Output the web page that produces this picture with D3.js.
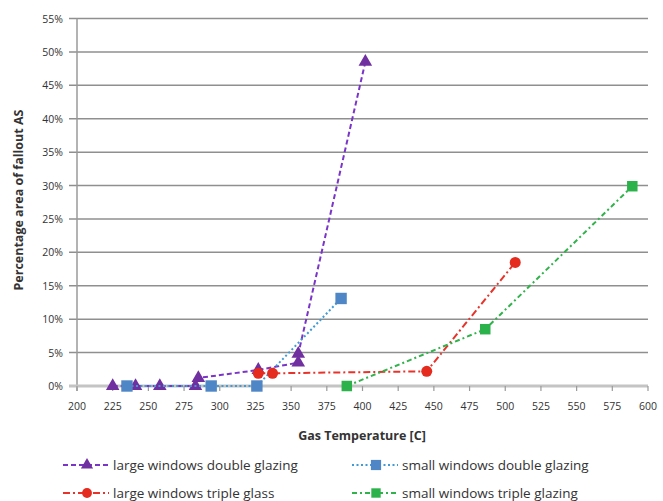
<!DOCTYPE html>
<html><head><meta charset="utf-8">
<script src="https://cdn.jsdelivr.net/npm/d3@7/dist/d3.min.js"></script>
<style>
html,body{margin:0;padding:0;background:#fff;}
svg text{font-family:"Open Sans",Lato,sans-serif;fill:#333;}
</style></head>
<body><svg id="c" width="663" height="501"></svg>
<script>
// Data
const xTicks = [200,225,250,275,300,325,350,375,400,425,450,475,500,525,550,575,600];
const yTicks = [0,5,10,15,20,25,30,35,40,45,50,55];
const seriesNames = ["large windows double glazing","small windows double glazing","large windows triple glass","small windows triple glazing"];
const largeDoubleX = [225, 241, 258, 283, 285, 327, 355, 355, 402];
const largeDoubleY = [0, 0, 0, 0, 1.2, 2.4, 3.5, 4.8, 48.5];
const smallDoubleX = [235, 294, 326, 385];
const smallDoubleY = [0, 0, 0, 13.1];
const largeTripleX = [327, 337, 445, 507];
const largeTripleY = [1.9, 1.9, 2.2, 18.5];
const smallTripleX = [389, 486, 589];
const smallTripleY = [0, 8.5, 29.9];

const svg = d3.select("#c");
const x = d3.scaleLinear().domain([200,600]).range([77,648]);
const y = d3.scaleLinear().domain([0,55]).range([386,18.5]);

// gridlines
svg.append("g").selectAll("line").data(yTicks.filter(d=>d>0)).join("line")
  .attr("x1",69).attr("x2",648).attr("y1",d=>y(d)).attr("y2",d=>y(d))
  .attr("stroke","#8f8f8f").attr("stroke-width",1.5);
// y axis line
svg.append("line").attr("x1",x(200)).attr("x2",x(200)).attr("y1",y(55)).attr("y2",y(0)+5)
  .attr("stroke","#9a9a9a").attr("stroke-width",1.5);
// x axis line
svg.append("line").attr("x1",69).attr("x2",648).attr("y1",y(0)).attr("y2",y(0))
  .attr("stroke","#c4c4c4").attr("stroke-width",3);
// x ticks
svg.append("g").selectAll("line").data(xTicks).join("line")
  .attr("x1",d=>x(d)).attr("x2",d=>x(d)).attr("y1",y(0)).attr("y2",y(0)+5)
  .attr("stroke","#9a9a9a").attr("stroke-width",1.2);

// tick labels
svg.append("g").selectAll("text").data(yTicks).join("text")
  .attr("x",63).attr("y",d=>y(d)+4).attr("text-anchor","end")
  .attr("font-size",10.5).text(d=>d+"%");
svg.append("g").selectAll("text").data(xTicks).join("text")
  .attr("x",d=>x(d)).attr("y",410).attr("text-anchor","middle")
  .attr("font-size",10.5).text(d=>d);

// axis titles
svg.append("text").attr("x",362).attr("y",440).attr("text-anchor","middle")
  .attr("font-size",12.5).attr("font-weight","bold").text("Gas Temperature [C]");
svg.append("text").attr("transform","translate(23,200) rotate(-90)").attr("text-anchor","middle")
  .attr("font-size",12.5).attr("font-weight","bold").text("Percentage area of fallout AS");

const series = [
  {name:seriesNames[0], xs:largeDoubleX, ys:largeDoubleY, line:"#7a35c8", mark:"#7030a0", dash:"5,3", sym:d3.symbolTriangle, size:80},
  {name:seriesNames[1], xs:smallDoubleX, ys:smallDoubleY, line:"#3f9ad6", mark:"#4f86c6", dash:"2,2.5", sym:d3.symbolSquare, size:130},
  {name:seriesNames[2], xs:largeTripleX, ys:largeTripleY, line:"#e8332a", mark:"#e52a1e", dash:"7,3,2,3", sym:d3.symbolCircle, size:95},
  {name:seriesNames[3], xs:smallTripleX, ys:smallTripleY, line:"#2fb34a", mark:"#2bb24a", dash:"5,3,2,3", sym:d3.symbolSquare, size:110}
];
const line = d3.line().x(d=>x(d[0])).y(d=>y(d[1]));
series.forEach(s=>{
  const pts = s.xs.map((v,i)=>[v,s.ys[i]]);
  svg.append("path").datum(pts).attr("d",line).attr("fill","none")
    .attr("stroke",s.line).attr("stroke-width",2).attr("stroke-dasharray",s.dash);
  svg.append("g").selectAll("path").data(pts).join("path")
    .attr("transform",d=>`translate(${x(d[0])},${y(d[1])})`)
    .attr("d",d3.symbol().type(s.sym).size(s.size)).attr("fill",s.mark);
});

// legend
const legPos = [[63,465],[352,465],[63,493],[352,493]];
series.forEach((s,i)=>{
  const [lx,ly] = legPos[i];
  const g = svg.append("g").attr("transform",`translate(${lx},${ly})`);
  g.append("line").attr("x1",0).attr("x2",46).attr("y1",0).attr("y2",0)
    .attr("stroke",s.line).attr("stroke-width",2).attr("stroke-dasharray",s.dash);
  g.append("path").attr("transform","translate(24,0)")
    .attr("d",d3.symbol().type(s.sym).size(s.size*0.8)).attr("fill",s.mark);
  g.append("text").attr("x",50).attr("y",4.5).attr("font-size",13.5).text(s.name);
});
</script></body></html>
